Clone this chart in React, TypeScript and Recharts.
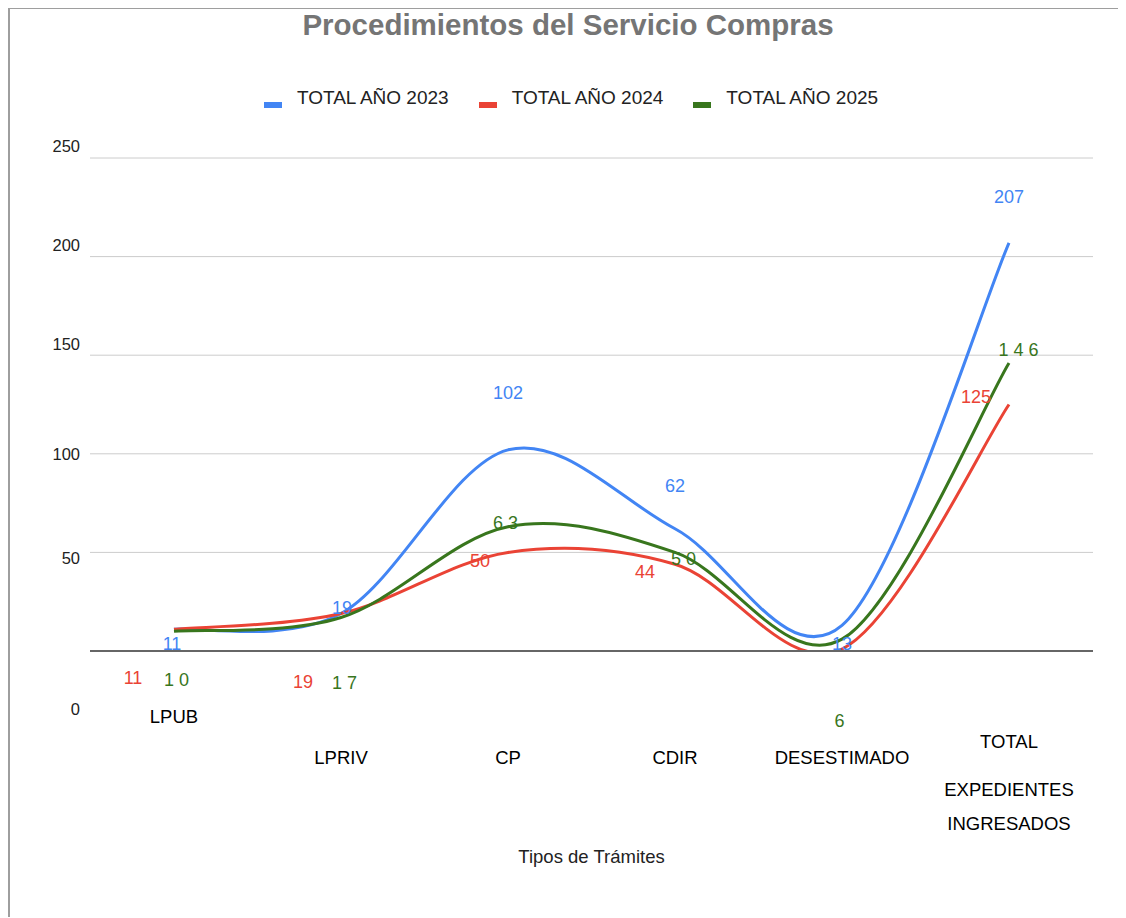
import { LineChart, Line, XAxis, YAxis, CartesianGrid, Legend, LabelList } from "recharts";

const categories = ["LPUB", "LPRIV", "CP", "CDIR", "DESESTIMADO", "TOTAL EXPEDIENTES INGRESADOS"];
const total2023 = [11, 19, 102, 62, 13, 207];
const total2024 = [11, 19, 50, 44, 1, 125];
const total2025 = [10, 17, 63, 50, 6, 146];
const yTicks = [0, 50, 100, 150, 200, 250];

const data = categories.map((c, i) => ({
  name: c,
  "TOTAL AÑO 2023": total2023[i],
  "TOTAL AÑO 2024": total2024[i],
  "TOTAL AÑO 2025": total2025[i],
}));

const FONT = "'Liberation Sans', Arial, sans-serif";

// label offsets from each point, as in the source image (null = hidden)
const labelOffsets: Record<string, ([number, number] | null)[]> = {
  "TOTAL AÑO 2023": [[-2, 15], [1, -6], [0, -57], [0, -43], [0, 19], [0, -46]],
  "TOTAL AÑO 2024": [[-41, 49], [-38, 68], [-28, 9], [-30, 8], null, [-33, -8]],
  "TOTAL AÑO 2025": [[5, 49], [6, 66], [0, -4], [11, 7], [0, 82], [12, -13]],
};

// y tick label shifts (the original has them drifting off the gridlines)
const yTickShift: Record<number, number> = { 0: 58, 50: 6, 100: 0, 150: -11, 200: -12, 250: -12 };

// x tick line offsets below the axis
const xTickRows = [[65], [106], [106], [106], [106], [90, 138, 172]];

const series = [
  { key: "TOTAL AÑO 2023", color: "#4285f4", spacing: 0 },
  { key: "TOTAL AÑO 2024", color: "#ea4335", spacing: 0 },
  { key: "TOTAL AÑO 2025", color: "#38761d", spacing: 5 },
];

// catmull-rom style smoothing, closer to the original than "natural"
function smoothCurve(context: any) {
  let pts: number[][] = [];
  return {
    areaStart() {},
    areaEnd() {},
    lineStart() {
      pts = [];
    },
    point(x: number, y: number) {
      pts.push([+x, +y]);
    },
    lineEnd() {
      if (!pts.length) return;
      context.moveTo(pts[0][0], pts[0][1]);
      for (let i = 0; i < pts.length - 1; i++) {
        const p0 = pts[i - 1] || pts[i];
        const p1 = pts[i];
        const p2 = pts[i + 1];
        const p3 = pts[i + 2] || p2;
        context.bezierCurveTo(
          p1[0] + (p2[0] - p0[0]) / 6,
          p1[1] + (p2[1] - p0[1]) / 6,
          p2[0] - (p3[0] - p1[0]) / 6,
          p2[1] - (p3[1] - p1[1]) / 6,
          p2[0],
          p2[1]
        );
      }
    },
  };
}

function makeLabel(key: string, color: string, spacing: number) {
  return (props: any) => {
    const off = labelOffsets[key][props.index];
    if (!off) return null;
    return (
      <text
        x={props.x + off[0]}
        y={props.y + off[1]}
        textAnchor="middle"
        dominantBaseline="central"
        fill={color}
        fontSize={18}
        fontFamily={FONT}
        letterSpacing={spacing}
      >
        {props.value}
      </text>
    );
  };
}

function XTick(props: any) {
  const { x, y, index, payload } = props;
  const lines = index === 5 ? ["TOTAL", "EXPEDIENTES", "INGRESADOS"] : [payload.value];
  return (
    <g>
      {lines.map((l: string, i: number) => (
        <text key={i} x={x} y={y + xTickRows[index][i]} textAnchor="middle" dominantBaseline="central" fill="#000" fontSize={18.5} fontFamily={FONT}>
          {l}
        </text>
      ))}
    </g>
  );
}

function YTick(props: any) {
  const { x, y, payload } = props;
  return (
    <text x={x} y={y + (yTickShift[payload.value] ?? 0)} textAnchor="end" dominantBaseline="central" fill="#222" fontSize={16.5} fontFamily={FONT}>
      {payload.value}
    </text>
  );
}

function LegendContent(props: any) {
  const items = props.payload || [];
  return (
    <div style={{ display: "flex", justifyContent: "center", fontFamily: FONT, fontSize: 19, color: "#222" }}>
      {items.map((it: any, i: number) => (
        <div key={it.value} style={{ display: "flex", alignItems: "center", marginLeft: i ? 30 : 0 }}>
          <span style={{ display: "inline-block", width: 18, height: 6, background: it.color, marginRight: 15, position: "relative", top: 7 }} />
          <span>{it.value}</span>
        </div>
      ))}
    </div>
  );
}

export default function App() {
  return (
    <div style={{ position: "relative", width: 1116, height: 908, borderLeft: "2px solid #9e9e9e", borderTop: "2px solid #9e9e9e", marginTop: -1 }}>
      <div style={{ position: "absolute", top: 0, left: 0, width: 1116, textAlign: "center", fontFamily: FONT, fontWeight: "bold", fontSize: 29.5, lineHeight: "32px", color: "#757575" }}>
        Procedimientos del Servicio Compras
      </div>
      <LineChart width={1116} height={908} data={data} margin={{ top: 127, right: 33, left: 0, bottom: 0 }}>
        <CartesianGrid vertical={false} stroke="#cccccc" />
        <XAxis
          dataKey="name"
          height={266}
          padding={{ left: 84, right: 84 }}
          axisLine={{ stroke: "#666", strokeWidth: 2 }}
          tickLine={false}
          tickSize={0}
          tickMargin={0}
          interval={0}
          tick={<XTick />}
          label={(p: any) => (
            <text x={p.viewBox.x + p.viewBox.width / 2} y={p.viewBox.y + 205} textAnchor="middle" dominantBaseline="central" fontSize={18.5} fontFamily={FONT} fill="#222">
              Tipos de Trámites
            </text>
          )}
        />
        <YAxis
          width={80}
          domain={[0, 250]}
          ticks={yTicks}
          allowDataOverflow
          axisLine={false}
          tickLine={false}
          tickSize={0}
          tickMargin={10}
          tick={<YTick />}
        />
        <Legend verticalAlign="top" content={<LegendContent />} wrapperStyle={{ position: "absolute", top: 78, left: 3, width: 1116 }} />
        {series.map((s) => (
          <Line key={s.key} type={smoothCurve as any} dataKey={s.key} stroke={s.color} strokeWidth={3} dot={false} isAnimationActive={false}>
            <LabelList dataKey={s.key} content={makeLabel(s.key, s.color, s.spacing)} />
          </Line>
        ))}
      </LineChart>
    </div>
  );
}
